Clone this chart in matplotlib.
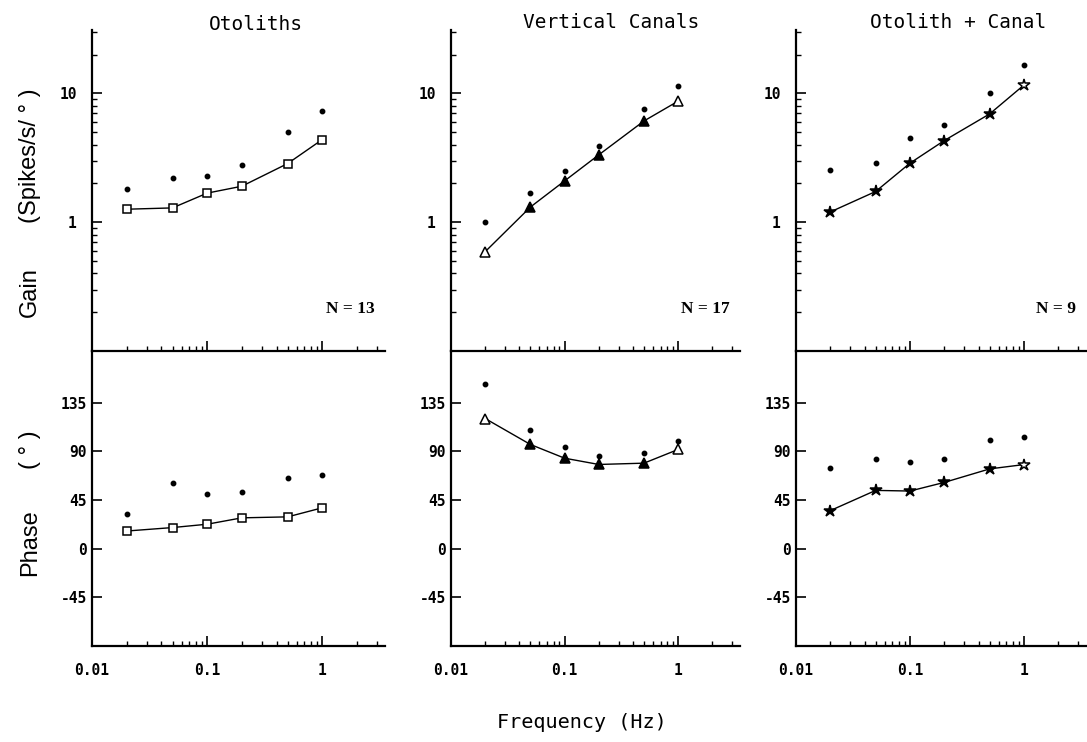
import matplotlib
matplotlib.use("Agg")
import matplotlib.pyplot as plt
from matplotlib.ticker import LogLocator, NullFormatter, FixedLocator

# ---------------- data ----------------
freq = [0.02, 0.05, 0.1, 0.2, 0.5, 1.0]
titles = ["Otoliths", "Vertical Canals", "Otolith + Canal"]
n_labels = ["N = 13", "N = 17", "N = 9"]

oto_gain_mean = [1.26, 1.29, 1.68, 1.90, 2.85, 4.38]
oto_gain_dot = [1.82, 2.21, 2.27, 2.77, 5.0, 7.3]
can_gain_mean = [0.59, 1.31, 2.09, 3.33, 6.1, 8.7]
can_gain_dot = [1.0, 1.68, 2.5, 3.88, 7.5, 11.3]
oc_gain_mean = [1.20, 1.73, 2.87, 4.30, 6.92, 11.6]
oc_gain_dot = [2.55, 2.90, 4.53, 5.7, 10.0, 16.7]

oto_phase_mean = [16.4, 19.6, 22.7, 28.6, 29.5, 37.9]
oto_phase_dot = [31.7, 60.8, 50.9, 52.1, 65.2, 68.6]
can_phase_mean = [120.5, 96.5, 83.8, 78.0, 79.2, 91.9]
can_phase_dot = [152.0, 109.7, 94.0, 86.0, 88.2, 99.3]
oc_phase_mean = [35.3, 54.0, 53.4, 61.4, 73.9, 77.9]
oc_phase_dot = [74.8, 82.8, 80.4, 83.1, 100.6, 103.1]

gain_ticks = [1, 10]
gain_ticklabels = ["1", "10"]
phase_ticks = [-45, 0, 45, 90, 135]
phase_ticklabels = ["-45", "0", "45", "90", "135"]
freq_ticks = [0.01, 0.1, 1]
freq_ticklabels = ["0.01", "0.1", "1"]

# ---------------- styles ----------------
gain_means = [oto_gain_mean, can_gain_mean, oc_gain_mean]
gain_dots = [oto_gain_dot, can_gain_dot, oc_gain_dot]
phase_means = [oto_phase_mean, can_phase_mean, oc_phase_mean]
phase_dots = [oto_phase_dot, can_phase_dot, oc_phase_dot]
markers = ["s", "^", "*"]
msizes = [6, 7, 9]
# which markers are drawn filled (per point)
fills = [[False] * 6,
         [False, True, True, True, True, False],
         [True, True, True, True, True, False]]

W, H = 1087, 742
fig = plt.figure(figsize=(W / 100, H / 100), dpi=100)
fig.patch.set_facecolor("white")

def rect(l, t, r, b):
    return [l / W, 1 - b / H, (r - l) / W, (b - t) / H]

def fx(x):
    return x / W

def fy(y):
    return 1 - y / H

panels_x = [(92, 385), (451, 740), (796, 1086)]
title_pos = [(256, 25), (611, 22), (958, 23)]
gain_top, mid, phase_bot = 30, 351, 646

tick_font = dict(family="DejaVu Sans Mono", weight="bold", size=10.5)
mono = "DejaVu Sans Mono"

def style_axes(ax):
    for s in ["top", "right"]:
        ax.spines[s].set_visible(False)
    for s in ["left", "bottom"]:
        ax.spines[s].set_linewidth(1.6)
        ax.spines[s].set_color("black")
    ax.set_xscale("log")
    ax.set_xlim(0.01, 3.5)
    ax.xaxis.set_major_locator(FixedLocator(freq_ticks))
    ax.xaxis.set_minor_locator(LogLocator(base=10, subs=range(2, 10)))
    ax.xaxis.set_minor_formatter(NullFormatter())
    ax.tick_params(axis="both", which="major", direction="in", length=7, width=1.2)
    ax.tick_params(axis="both", which="minor", direction="in", length=3.5, width=1.0)
    ax.set_facecolor("none")

def draw_markers(ax, xs, ys, marker, ms, fill):
    for x, y, f in zip(xs, ys, fill):
        ax.plot([x], [y], marker=marker, ms=ms, mec="black", mew=1.1,
                mfc="black" if f else "white", linestyle="none", zorder=3)

for i, (l, r) in enumerate(panels_x):
    axg = fig.add_axes(rect(l, gain_top, r, mid))
    axp = fig.add_axes(rect(l, mid, r, phase_bot))
    for ax in (axg, axp):
        style_axes(ax)

    # gain
    axg.set_yscale("log")
    axg.set_ylim(0.1, 31)
    axg.yaxis.set_major_locator(FixedLocator(gain_ticks))
    axg.set_yticklabels(gain_ticklabels, fontdict=tick_font)
    axg.tick_params(axis="y", which="major", pad=11)
    axg.yaxis.set_minor_locator(LogLocator(base=10, subs=range(2, 10)))
    axg.yaxis.set_minor_formatter(NullFormatter())
    axg.set_xticklabels([])
    axg.plot(freq, gain_means[i], color="black", lw=1.0, zorder=2)
    draw_markers(axg, freq, gain_means[i], markers[i], msizes[i], fills[i])
    axg.plot(freq, gain_dots[i], "o", color="black", ms=3.2, linestyle="none")
    tx, ty = title_pos[i]
    fig.text(fx(tx), fy(ty), titles[i], family=mono, fontsize=14,
             ha="center", va="center")
    axg.text(0.965, 0.13, n_labels[i], transform=axg.transAxes, ha="right",
             va="center", family="Liberation Serif", weight="bold", fontsize=12.5)

    # phase
    axp.set_ylim(-90, 183)
    axp.yaxis.set_major_locator(FixedLocator(phase_ticks))
    axp.set_yticklabels(phase_ticklabels, fontdict=tick_font)
    axp.set_xticklabels(freq_ticklabels, fontdict=tick_font)
    axp.tick_params(axis="x", which="major", pad=12)
    axp.plot(freq, phase_means[i], color="black", lw=1.0, zorder=2)
    draw_markers(axp, freq, phase_means[i], markers[i], msizes[i], fills[i])
    axp.plot(freq, phase_dots[i], "o", color="black", ms=3.2, linestyle="none")

lab = dict(rotation=90, ha="center", va="center", family="Liberation Sans", fontsize=17)
fig.text(fx(30), fy(292), "Gain", **lab)
fig.text(fx(30), fy(156), "(Spikes/s/ \u00b0 )", **lab)
fig.text(fx(30), fy(543), "Phase", **lab)
fig.text(fx(30), fy(450), "( \u00b0 )", **lab)
fig.text(fx(582), fy(722), "Frequency (Hz)", ha="center", va="center",
         family=mono, fontsize=14.5)

fig.savefig("out.png", dpi=100)
